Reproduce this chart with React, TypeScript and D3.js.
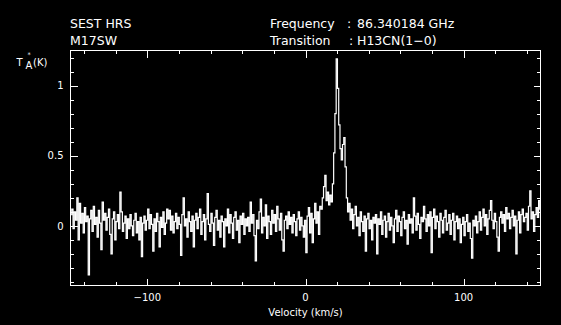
import React from "react";
import * as d3 from "d3";

// ---- header texts ----
const headerLeft = ["SEST HRS", "M17SW"];
const headerLabels = ["Frequency", "Transition"];
const headerValues = ["86.340184 GHz", "H13CN(1\u22120)"];

// ---- axes ----
const xDomain = [-148.6, 148.6];
const yDomain = [-0.425, 1.25];
const xMinorStep = 20;
const xMajorEvery = 100;
const xTickLabels = [-100, 0, 100];
const yTickLabels = [0, 0.5, 1];
const xAxisTitle = "Velocity (km/s)";

// ---- spectrum: first channel velocity and channel width (km/s) ----
const startVelocity = -148.2;
const channelWidth = 0.8;

// antenna temperature T*A (K), one value per channel
const tempK = [
  // 0-19
  0.08, 0.12, -0.02, 0.1, 0.04, 0.2, -0.1, 0.16, 0.02, 0.09, -0.05, 0.13, 0.03, 0.07, -0.35, 0.05, 0.11, -0.04, 0.14, 0.01,
  // 20-39
  0.06, -0.08, 0.11, 0.02, -0.17, 0.17, 0.04, 0.09, -0.03, 0.06, 0.12, -0.06, -0.2, 0.05, 0.1, -0.1, 0.03, 0.08, -0.02, 0.24,
  // 40-59
  0.1, -0.04, 0.02, 0.07, -0.09, 0.05, -0.02, 0.08, 0.0, -0.07, 0.04, 0.09, -0.05, 0.03, -0.1, 0.06, -0.22, 0.02, 0.07, -0.03,
  // 60-79
  0.04, 0.12, -0.02, 0.08, 0.01, -0.18, 0.05, -0.04, 0.09, 0.03, -0.15, 0.06, -0.01, 0.1, -0.06, 0.02, 0.12, 0.05, 0.11, -0.03,
  // 80-99
  0.07, -0.05, 0.03, 0.09, -0.02, 0.06, 0.01, -0.21, 0.08, 0.2, 0.0, 0.05, -0.08, 0.1, 0.03, -0.04, 0.07, -0.15, 0.04, 0.09,
  // 100-119
  -0.02, 0.06, 0.12, -0.06, 0.03, 0.08, -0.1, 0.05, 0.23, 0.01, -0.04, 0.09, 0.02, -0.14, 0.06, 0.11, -0.03, 0.04, -0.08, 0.07,
  // 120-139
  0.03, -0.15, 0.05, 0.0, 0.12, -0.05, 0.08, 0.02, -0.09, 0.06, 0.1, -0.03, 0.04, -0.12, 0.07, 0.01, 0.09, -0.06, 0.05, 0.0,
  // 140-159
  0.06, -0.04, 0.17, 0.02, 0.08, -0.07, -0.25, 0.04, -0.02, 0.1, 0.19, -0.05, 0.06, 0.0, 0.15, -0.09, 0.07, 0.03, -0.06, 0.11,
  // 160-179
  0.02, 0.08, -0.04, 0.14, 0.05, -0.03, 0.09, -0.1, -0.18, 0.04, 0.07, -0.02, 0.1, 0.01, 0.06, -0.05, 0.08, 0.03, -0.07, 0.05,
  // 180-199
  0.1, -0.03, 0.06, 0.0, -0.08, 0.04, -0.19, 0.07, 0.13, -0.05, 0.09, -0.12, 0.05, 0.16, 0.02, 0.1, -0.06, 0.14, 0.12, 0.2,
  // 200-219 (line)
  0.28, 0.36, 0.18, 0.24, 0.15, 0.22, 0.17, 0.3, 0.52, 0.8, 1.19, 0.98, 0.72, 0.55, 0.47, 0.58, 0.63, 0.42, 0.2, 0.1,
  // 220-239
  0.16, 0.04, 0.12, -0.02, 0.08, 0.14, 0.0, 0.06, -0.07, 0.1, 0.03, -0.04, 0.07, -0.18, 0.05, 0.09, -0.02, 0.04, -0.1, 0.06,
  // 240-259
  0.02, 0.08, -0.2, 0.05, 0.01, 0.1, -0.06, 0.04, 0.07, -0.08, 0.03, 0.09, -0.03, 0.06, 0.0, -0.12, 0.05, 0.11, -0.04, 0.07,
  // 260-279
  0.03, -0.07, 0.06, 0.1, -0.02, 0.04, -0.13, 0.08, 0.02, 0.05, -0.05, 0.2, 0.07, -0.03, 0.09, 0.01, -0.09, 0.06, 0.03, 0.14,
  // 280-299
  0.05, -0.04, 0.08, 0.0, 0.1, -0.19, 0.06, 0.12, -0.02, 0.07, 0.03, -0.08, 0.09, 0.04, -0.05, 0.06, 0.11, -0.03, 0.02, 0.08,
  // 300-319
  -0.06, 0.04, 0.09, -0.1, 0.03, 0.07, -0.02, 0.05, -0.12, 0.01, 0.06, -0.07, 0.03, 0.08, -0.04, 0.02, -0.09, -0.23, 0.04, 0.0,
  // 320-339
  0.07, -0.05, 0.03, 0.1, -0.03, 0.06, 0.12, 0.0, 0.08, -0.06, 0.05, 0.11, 0.18, 0.04, -0.02, 0.09, 0.03, -0.08, -0.18, 0.06,
  // 340-359
  0.1, 0.02, 0.08, -0.04, 0.13, 0.05, 0.09, -0.02, 0.06, 0.11, 0.0, 0.07, -0.2, 0.04, 0.1, -0.05, 0.08, 0.12, 0.03, 0.06,
  // 360-371
  0.09, -0.03, 0.14, 0.25, 0.05, 0.1, -0.04, 0.08, 0.13, 0.06, 0.18, 0.12,
];

const FONT = "'DejaVu Sans', sans-serif";

export default function App() {
  const W = 561;
  const H = 325;
  const left = 70.5;
  const right = 540.5;
  const top = 50.5;
  const bottom = 285.5;

  const x = d3.scaleLinear().domain(xDomain).range([left, right]);
  const y = d3.scaleLinear().domain(yDomain).range([bottom, top]);

  const points = tempK.map((t, i) => [startVelocity + i * channelWidth, t] as [number, number]);
  const line = d3
    .line<[number, number]>()
    .x((d) => x(d[0]))
    .y((d) => y(d[1]))
    .curve(d3.curveStep);
  const path = line(points) || "";

  const xTicks: { v: number; major: boolean }[] = [];
  for (let v = -140; v <= 140; v += xMinorStep) xTicks.push({ v, major: v % xMajorEvery === 0 });
  const yTicks: { v: number; major: boolean }[] = [];
  for (let k = -4; k <= 12; k++) yTicks.push({ v: k / 10, major: k % 5 === 0 });

  const majLen = 7;
  const minLen = 3.7;

  return (
    <svg
      width={W}
      height={H}
      style={{ position: "absolute", left: 0, top: 0, background: "#000", display: "block" }}
    >
      <rect x={0} y={0} width={W} height={H} fill="#000" />
      <defs>
        <clipPath id="plotclip">
          <rect x={left} y={top - 20} width={right - left} height={bottom - top + 20} />
        </clipPath>
      </defs>

      {/* header */}
      <g fill="#fff" fontFamily={FONT} fontSize={12.5}>
        <text x={70} y={27.5}>{headerLeft[0]}</text>
        <text x={70} y={45}>{headerLeft[1]}</text>
        <text x={270} y={27.5}>{headerLabels[0]}</text>
        <text x={270} y={45}>{headerLabels[1]}</text>
        <text x={347} y={27.5}>:</text>
        <text x={349} y={45}>:</text>
        <text x={357} y={27.5}>{headerValues[0]}</text>
        <text x={357} y={45}>{headerValues[1]}</text>
      </g>

      {/* y axis label T*A (K) */}
      <g fill="#fff" fontFamily={FONT}>
        <text fontSize={10} x={16.5} y={66}>T</text>
        <text fontSize={6.5} x={27.6} y={57.4}>*</text>
        <text fontSize={10} x={25.5} y={69}>A</text>
        <text fontSize={10} x={33} y={66}>(K)</text>
      </g>

      {/* spectrum */}
      <path
        d={path}
        fill="none"
        stroke="#fff"
        strokeWidth={1.2}
        strokeLinejoin="miter"
        clipPath="url(#plotclip)"
      />

      {/* frame */}
      <rect
        x={left}
        y={top}
        width={right - left}
        height={bottom - top}
        fill="none"
        stroke="#fff"
        strokeWidth={1}
        shapeRendering="crispEdges"
      />

      {/* ticks on all four sides */}
      <g stroke="#fff" strokeWidth={1} shapeRendering="crispEdges">
        {xTicks.map((t) => {
          const px = Math.round(x(t.v)) + 0.5;
          const len = t.major ? majLen : minLen;
          return (
            <g key={"xt" + t.v}>
              <line x1={px} x2={px} y1={bottom} y2={bottom - len} />
              <line x1={px} x2={px} y1={top} y2={top + len} />
            </g>
          );
        })}
        {yTicks.map((t) => {
          const py = Math.round(y(t.v)) + 0.5;
          const len = t.major ? majLen : minLen;
          return (
            <g key={"yt" + t.v}>
              <line x1={left} x2={left + len} y1={py} y2={py} />
              <line x1={right} x2={right - len} y1={py} y2={py} />
            </g>
          );
        })}
      </g>

      {/* tick labels */}
      <g fill="#fff" fontFamily={FONT} fontSize={10}>
        {xTickLabels.map((v) => (
          <text key={"xl" + v} x={x(v)} y={300.5} textAnchor="middle">
            {v < 0 ? "\u2212" + Math.abs(v) : String(v)}
          </text>
        ))}
        {yTickLabels.map((v) => (
          <text key={"yl" + v} x={63.5} y={y(v) + 3.7} textAnchor="end">
            {String(v)}
          </text>
        ))}
        <text x={x(0)} y={316} textAnchor="middle">
          {xAxisTitle}
        </text>
      </g>
    </svg>
  );
}
